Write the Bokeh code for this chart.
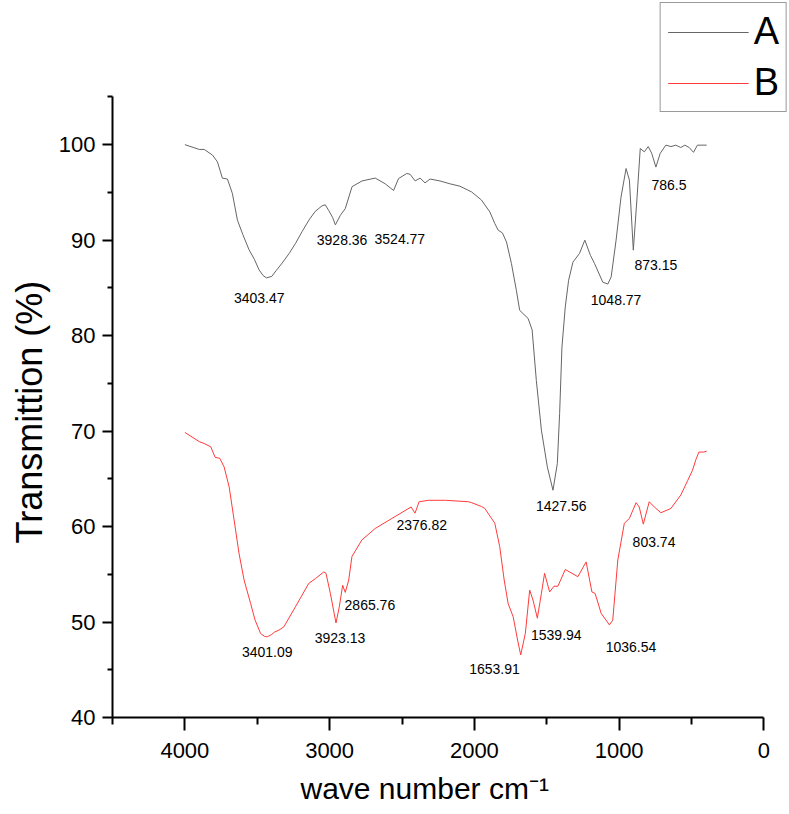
from bokeh.plotting import figure
from bokeh.models import Range1d, FixedTicker, Legend, LegendItem, Title
from bokeh.core.properties import value
from bokeh.embed import file_html
from bokeh.resources import INLINE

# ---- data: FT-IR spectra (wavenumber cm-1, transmission %) ----
wn_A = [4000, 3901, 3866, 3809, 3775, 3741, 3706, 3672, 3637, 3600, 3557, 3520, 3488, 3460,
        3437, 3400, 3370, 3328, 3280, 3236, 3190, 3143, 3100, 3052, 3030, 3006, 2980, 2960,
        2926, 2892, 2845, 2776, 2685, 2616, 2558, 2524, 2467, 2444,
        2409, 2375, 2341, 2306, 2238, 2169, 2100, 2019, 1951, 1893, 1859, 1836, 1806, 1778,
        1744, 1710, 1687, 1629, 1601, 1572, 1537, 1496, 1457, 1427, 1411, 1395, 1372, 1349,
        1319, 1274, 1237, 1198, 1170, 1113, 1078, 1055, 1021, 987, 952, 929, 902, 876, 854,
        826, 799, 775, 746, 716, 677, 642, 608, 574, 546, 516, 486, 459, 395]
T_A = [100.0, 99.5, 99.5, 98.9, 98.2, 96.5, 96.4, 94.9, 92.1, 90.6, 89.0, 88.0, 86.9, 86.3,
       86.05, 86.2, 86.8, 87.6, 88.6, 89.65, 90.9, 92.1, 93.0, 93.6, 93.7, 93.1, 92.4, 91.6,
       92.6, 93.3, 95.6, 96.2, 96.5, 95.9, 95.2, 96.45, 96.98, 96.9,
       96.2, 96.5, 96.0, 96.4, 96.2, 95.9, 95.65, 95.05, 94.2, 92.95, 91.75, 91.05, 90.75, 89.8,
       87.55, 84.75, 82.65, 81.8, 80.6, 75.3, 70.1, 66.25, 63.8, 66.6, 71.85, 78.8, 83.0, 85.8,
       87.7, 88.6, 90.0, 88.4, 87.55, 85.6, 85.4, 86.15, 90.0, 94.5, 97.5, 96.3, 88.95, 94.5, 99.6,
       99.25, 99.8, 99.1, 97.65, 99.1, 99.95, 99.8, 99.95, 99.7, 99.95, 99.7, 99.2, 99.95, 99.95]

wn_B = [4000, 3901, 3867, 3821, 3791, 3759, 3729, 3694, 3660, 3626, 3591, 3546, 3515, 3477,
        3450, 3431, 3400, 3380, 3350, 3316, 3236, 3144, 3098, 3040, 3025, 2995, 2956, 2933, 2910,
        2892, 2868, 2846, 2777, 2685, 2570, 2437, 2410, 2382, 2317, 2200, 2042, 2019, 1951, 1928,
        1859, 1825, 1794, 1767, 1732, 1700, 1680, 1648, 1618, 1595, 1565, 1537, 1515, 1480, 1450,
        1423, 1372, 1285, 1228, 1188, 1166, 1124, 1067, 1044, 1009, 964, 929, 883, 861, 833, 792,
        757, 711, 642, 574, 527, 493, 470, 449, 415, 395]
T_B = [69.86, 68.9, 68.7, 68.35, 67.25, 67.15, 66.25, 64.15, 60.7, 57.2, 54.4, 51.95, 50.2, 48.8,
       48.5, 48.45, 48.7, 48.95, 49.15, 49.5, 51.6, 54.05, 54.55, 55.25, 55.1, 53.0, 49.9, 51.6, 53.85,
       53.1, 54.4, 56.85, 58.6, 59.8, 60.85, 62.05, 61.4, 62.6, 62.75, 62.75, 62.6, 62.5, 62.1, 61.9,
       60.35, 57.9, 54.4, 51.95, 50.55, 48.0, 46.55, 48.8, 53.35, 52.3, 50.4, 53.0, 55.1, 53.15, 53.75,
       53.75, 55.5, 54.75, 56.3, 53.15, 53.0, 50.9, 49.7, 50.2, 56.5, 60.35, 60.85, 62.5, 62.05, 60.25,
       62.6, 62.05, 61.45, 61.9, 63.3, 64.8, 65.9, 67.0, 67.8, 67.8, 67.9]

peak_labels = ["3403.47", "3928.36", "3524.77", "1048.77", "873.15", "786.5", "1427.56",
               "3401.09", "3923.13", "2865.76", "2376.82", "1653.91", "1539.94", "1036.54", "803.74"]
peak_x = [3486, 2914, 2515, 1021, 746, 656, 1400, 3431, 2928, 2722, 2364, 1861, 1434, 918, 759]
peak_y = [83.9, 90.05, 90.1, 83.7, 87.4, 95.8, 62.15, 46.9, 48.3, 51.8, 60.2, 45.1, 48.6, 47.4, 58.4]

x_major = [0, 1000, 2000, 3000, 4000]
x_minor = [500, 1500, 2500, 3500, 4500]
y_major = [40, 50, 60, 70, 80, 90, 100]
y_minor = [45, 55, 65, 75, 85, 95, 105]

FONT = "Liberation Sans"

p = figure(width=789, height=814, output_backend="svg", toolbar_location=None,
           x_range=Range1d(4500, -177), y_range=Range1d(40, 115.1),
           min_border_left=110, min_border_right=0, min_border_top=0, min_border_bottom=97)
p.outline_line_color = None
p.xgrid.visible = False
p.ygrid.visible = False

rA = p.line(wn_A, T_A, line_color="#666666", line_width=1)
rB = p.line(wn_B, T_B, line_color="#ff3b3b", line_width=1)

p.text(x=peak_x, y=peak_y, text=peak_labels, text_font=value(FONT), text_font_size="14px",
       text_align="center", text_baseline="middle", text_color="black")

for ax, maj, mino, tout, mout in ((p.xaxis, x_major, x_minor, 13, 7), (p.yaxis, y_major, y_minor, 10, 5)):
    ax.ticker = FixedTicker(ticks=maj, minor_ticks=mino)
    ax.major_tick_out = tout
    ax.major_tick_in = 0
    ax.minor_tick_out = mout
    ax.minor_tick_in = 0
    ax.axis_line_width = 2
    ax.major_tick_line_width = 2
    ax.minor_tick_line_width = 2
    ax.axis_line_color = "black"
    ax.major_tick_line_color = "black"
    ax.minor_tick_line_color = "black"
    ax.major_label_text_font = FONT
    ax.major_label_text_font_size = "22px"
    ax.major_label_text_color = "black"

p.xaxis.bounds = (0, 4500)
p.yaxis.bounds = (40, 105)
p.xaxis.major_label_standoff = 12
p.yaxis.major_label_standoff = 7

p.add_layout(Title(text="wave number cm⁻¹", align="left", offset=188, standoff=19,
                   text_font=FONT, text_font_size="30px", text_font_style="normal",
                   text_color="black"), "below")
p.add_layout(Title(text="Transmittion (%)", align="left", offset=174, standoff=12,
                   text_font=FONT, text_font_size="36px", text_font_style="normal",
                   text_color="black"), "left")

legend = Legend(items=[LegendItem(label="A", renderers=[rA]), LegendItem(label="B", renderers=[rB])],
                location="top_right", margin=2, padding=7, spacing=8,
                glyph_width=81, glyph_height=40, label_height=40, label_standoff=5,
                label_text_font=FONT, label_text_font_size="38px", label_text_color="black",
                border_line_color="#333333", border_line_width=1, background_fill_color="white")
p.add_layout(legend)

open("out.html", "w").write(file_html(p, INLINE))
